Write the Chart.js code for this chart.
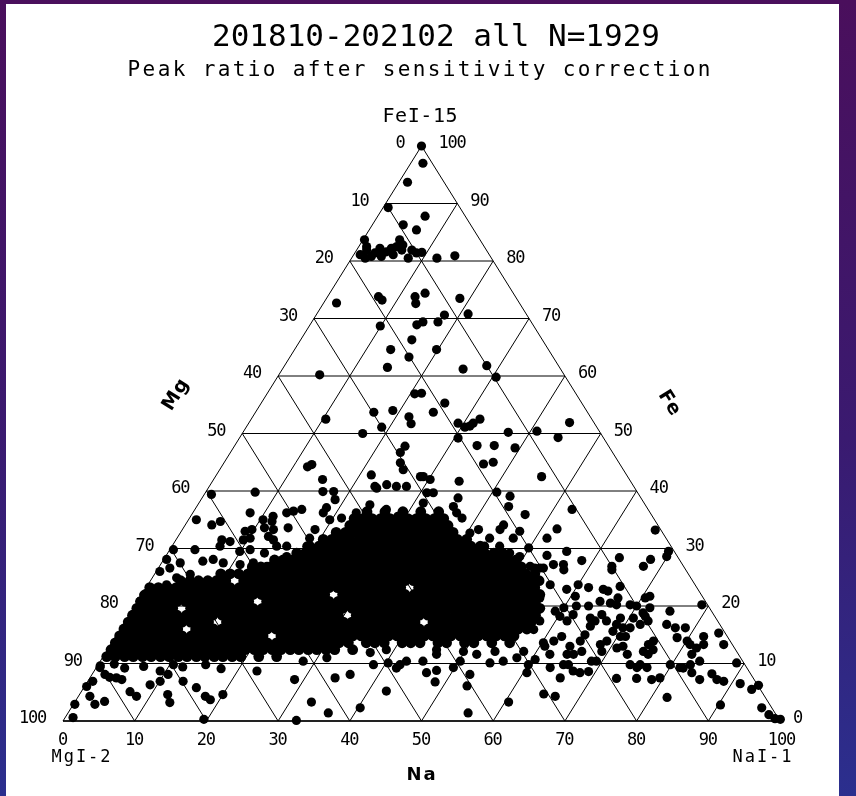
<!DOCTYPE html>
<html><head><meta charset="utf-8">
<script src="https://cdn.jsdelivr.net/npm/chart.js@4.4.1/dist/chart.umd.min.js"></script>
<style>html,body{margin:0;padding:0;overflow:hidden;background:#3a1660;}canvas{display:block}</style>
</head><body>
<canvas id="c" width="856" height="796"></canvas>
<script>
// ---- texts ----
const titleText = "201810-202102 all N=1929";
const subtitleText = "Peak ratio after sensitivity correction";
const topCorner = "FeI-15", leftCorner = "MgI-2", rightCorner = "NaI-1";
const axisNa = "Na", axisMg = "Mg", axisFe = "Fe";
// ---- tick labels ----
const gridVals = [10, 20, 30, 40, 50, 60, 70, 80, 90];
const tickVals = [0, 10, 20, 30, 40, 50, 60, 70, 80, 90, 100];

// ---- data: [Na, Fe] pairs (Mg = 100 - Na - Fe) ----
const apexPts = [[0,100],[1.7,97],[1.2,93.7],[0.7,89.3],[4.3,86.3],[6.6,87.8],[6.6,85.4],[0.2,83.7],[1.1,82.5],[0.9,81.1],[1.9,80.5],[2.6,80.8],[2.8,81.4],[3.1,82.2],[4.0,80.8],[4.7,82.2],[5.5,81.1],[5.1,83.7],[6.0,82.8],[6.3,81.9],[7.9,80.5],[7.7,81.9],[8.6,81.4],[9.3,81.5],[11.9,80.5],[14.2,80.9],[1.4,81.9],[4.3,81.6],[5.3,82.5]];
const upperPts = [[7.1,73.8],[7.9,73.2],[12.2,73.8],[12.9,72.6],[13.3,74.4],[18.6,73.5],[1.8,72.7],[21.1,70.8],[17.9,70.6],[17.6,69.4],[15.5,69.4],[14.9,68.9],[9.9,68.7],[15.5,66.3],[19.8,64.6],[13.4,64.6],[16.6,63.3],[14.5,61.5],[25.2,61.2],[28.2,61.8],[30.5,59.8],[5.7,60.2],[20.6,56.9],[21.5,57.0],[25.6,55.3],[19.0,54.0],[16.5,53.7],[24.8,53.7],[21.8,52.9],[22.7,51.7],[10.4,52.5],[18.9,51.1],[16.8,50.0],[29.2,51.8],[30.5,51.1],[31.3,51.8],[31.9,52.5],[31.1,51.3],[30.5,49.2],[37.0,50.2],[40.9,50.4],[44.4,49.3],[44.7,51.9],[33.8,47.9],[36.2,47.9],[39.3,47.5],[23.8,47.8],[23.7,46.7]];
const midPts = [[12.4,44.6],[12.0,44.2],[6.9,39.8],[1.0,39.4],[15.2,42.0],[16.3,39.9],[17.8,39.9],[18.7,38.5],[21.6,42.8],[23.1,40.8],[24.6,41.1],[23.5,40.5],[26.1,40.8],[27.5,40.8],[24.6,44.9],[25.6,43.7],[28.6,42.5],[36.3,44.7],[37.5,45.0],[45.5,42.5],[34.4,41.7],[40.6,39.8],[42.8,39.1],[35.7,38.8],[35.8,37.3],[36.8,36.2],[38.0,35.3],[43.5,37.3],[46.5,35.9],[52.6,36.8],[44.4,34.1],[44.3,33.3],[52.2,33.4],[51.6,31.8],[47.2,33.0],[46.9,31.8],[66.0,33.2],[29.0,42.5],[30.2,42.0],[30.9,39.7],[31.8,39.7],[31.3,37.9]];
const leftPts = [[8.0,36.2],[1.1,35.0],[3.7,34.1],[4.6,34.7],[8.9,33.0],[9.7,33.3],[10.4,35.0],[11.8,34.7],[11.5,35.6],[13.1,36.2],[13.9,36.5],[14.9,36.8],[11.3,33.6],[12.7,33.3],[14.6,33.6],[12.6,32.1],[10.2,31.8],[9.4,31.5],[13.6,31.5],[18.5,33.3],[18.5,31.8],[18.2,36.2],[18.2,37.1],[19.7,35.0],[21.2,35.3],[22.8,36.2],[24.0,37.6],[26.7,36.8],[25.8,35.0],[28.9,35.6],[31.3,35.0],[0.5,29.8],[3.5,29.8],[6.7,30.4],[6.4,31.5],[7.7,31.2],[9.9,29.5],[11.2,29.8],[13.5,29.2],[14.6,30.4],[16.0,30.4],[16.9,28.6],[18.0,29.2],[18.8,30.4],[20.0,29.8],[0.4,28.1],[2.6,27.5],[5.6,27.8],[6.9,28.1],[8.6,27.5],[11.1,27.2],[12.8,27.5],[15.0,26.9],[16.5,27.5],[18.5,27.2],[0.3,21.9],[0.3,20.8],[0.8,21.7],[0.5,26.0],[1.6,26.6],[3.4,24.9],[5.0,25.5],[2.6,23.7],[1.3,22.5]];
const rightPts = [[58.4,27.9],[63.4,28.4],[63.1,26.9],[67.9,28.1],[69.9,28.6],[69.7,29.5],[56.2,27.2],[54.8,27.2],[53.2,26.6],[55.5,29.5],[53.1,28.8],[49.9,30.1],[40.4,32.7],[41.3,33.3],[43.6,31.8],[43.6,30.4],[45.7,30.4],[47.7,29.2],[49.4,28.6],[51.7,26.9],[35.5,35.0],[36.0,33.3],[52.5,26.6],[53.7,26.6],[56.7,26.3],[63.4,26.3],[67.5,26.9],[56.1,23.7],[58.8,22.9],[60.6,21.7],[60.0,23.7],[61.7,23.2],[63.9,22.9],[64.7,22.6],[66.0,23.4],[66.7,21.4],[70.5,21.4],[71.0,21.7],[54.3,22.6],[55.8,21.4],[53.3,23.7],[88.9,10.1],[85.5,13.3],[83.8,15.3],[82.0,14.7],[82.7,13.3],[83.6,10.4],[82.6,9.8],[81.9,11.6],[80.1,13.9],[78.7,16.2],[78.4,14.5],[80.8,13.3],[82.0,12.7],[75.8,16.8],[77.3,16.2],[79.8,9.8],[81.4,9.3],[75.0,13.3],[75.8,11.6],[74.9,12.1],[76.1,12.4],[75.6,9.8],[76.8,9.3],[75.4,13.9],[75.1,19.1],[72.1,18.2],[72.9,17.4],[71.5,18.8],[72.0,19.7],[72.1,16.8],[70.6,17.9],[71.0,16.2],[71.1,14.7],[70.4,14.7],[71.6,13.0],[72.9,11.6],[70.9,12.7],[74.2,9.8],[75.4,9.3],[68.9,13.9],[68.3,13.3],[69.1,12.1],[69.2,10.4],[68.5,10.4],[68.9,15.6],[68.8,16.8],[68.8,17.9],[70.0,16.2],[67.1,17.4],[65.9,18.5],[65.5,17.4],[64.6,17.9],[65.3,16.5],[65.3,15.0],[65.2,13.9],[66.3,12.1],[65.4,11.6],[64.2,13.0],[64.5,11.6],[64.9,9.8],[65.6,9.8],[62.2,14.7],[61.5,13.9],[62.1,11.6],[60.7,13.0],[63.3,9.3],[60.2,13.6],[57.8,17.4],[57.7,15.9],[56.5,19.1],[59.1,19.1],[60.2,18.2],[61.6,17.4],[61.9,18.5],[60.0,19.7],[61.6,20.0],[63.3,20.0],[64.5,20.8],[66.1,20.5],[67.1,20.2],[69.0,20.2],[70.0,20.0],[79.0,20.2]];
const basePts = [[0.2,2.9],[1.1,0.6],[0.3,6.0],[0.7,6.9],[1.6,4.3],[3.0,2.9],[4.1,3.4],[2.7,7.6],[0.5,9.3],[4.6,7.2],[6.8,5.1],[8.1,4.3],[9.0,6.3],[10.1,6.9],[12.3,4.6],[13.3,3.2],[13.3,6.9],[15.7,5.8],[17.7,4.3],[18.7,3.7],[20.0,4.6],[19.5,0.3],[22.7,8.7],[28.7,7.2],[32.5,0.1],[33.0,3.3],[36.3,1.4],[34.2,7.5],[36.0,8.1],[40.3,2.3],[42.5,5.2],[41.9,9.2],[46.5,8.4],[47.7,8.8],[48.5,6.8],[53.3,6.1],[52.7,8.1],[55.8,1.4],[60.5,3.3],[60.5,8.4],[64.7,4.7],[66.5,4.3],[65.6,7.5],[66.8,8.7],[67.9,8.4],[69.0,8.6],[73.5,7.4],[76.3,7.4],[78.5,7.2],[79.5,7.5],[82.2,4.1],[81.9,9.2],[83.5,8.4],[85.2,7.2],[86.4,8.2],[87.6,7.2],[88.7,6.9],[90.3,2.8],[91.2,6.5],[93.3,5.5],[93.9,6.2],[96.3,2.3],[97.9,1.1],[99.1,0.4],[99.9,0.3],[9.2,8.7],[10.6,8.1],[10.5,9.8],[1.8,8.1],[3.7,7.5]];
const lowPts = [[28.3,10.4],[31.3,11.0],[38.4,9.8],[40.3,10.1],[42.1,9.8],[42.7,10.4],[45.0,10.4],[46.3,11.6],[49.8,9.3],[50.2,10.4],[54.5,10.1],[56.2,10.4],[57.8,11.0],[60.0,9.8],[60.5,10.7],[36.9,11.9],[38.9,12.4],[45.9,12.4],[49.8,12.1],[51.9,11.6],[54.2,12.1],[58.2,12.1],[0.4,9.6],[2.2,9.9],[4.0,9.2],[6.5,9.5],[12.0,9.4],[15.0,9.8],[17.5,9.1]];
// dense core, read row by row: Fe of each row, Na values of the dots in it
const coreFe = [36.4, 35.2, 34.0, 32.8, 31.6, 30.4, 29.2, 28.0, 26.8, 25.6, 24.4, 23.2, 22.0, 20.8, 19.6, 18.4, 17.2, 16.0, 14.8, 13.6, 12.4, 11.2];
const coreNa = [
 [24.2,26.7,29.2,31.7,34.2],
 [23.0,24.2,25.5,26.7,28.0,29.2,30.5,31.7,33.0,34.2,35.5],
 [23.0,24.2,25.5,26.7,28.0,29.2,30.5,31.7,33.0,34.2,35.5,36.7],
 [21.7,23.0,24.2,25.5,26.7,28.0,29.2,30.5,31.7,33.0,34.2,35.5,36.7,38.0],
 [20.5,21.7,23.0,24.2,25.5,26.7,28.0,29.2,30.5,31.7,33.0,34.2,35.5,36.7,38.0,39.2,40.5],
 [19.2,20.5,21.7,23.0,24.2,25.5,26.7,28.0,29.2,30.5,31.7,33.0,34.2,35.5,36.7,38.0,39.2,40.5,41.7,43.0],
 [18.0,19.2,20.5,21.7,23.0,24.2,25.5,26.7,28.0,29.2,30.5,31.7,33.0,34.2,35.5,36.7,38.0,39.2,40.5,41.7,43.0,44.2,45.5,46.7],
 [15.5,16.7,18.0,19.2,20.5,21.7,23.0,24.2,25.5,26.7,28.0,29.2,30.5,31.7,33.0,34.2,35.5,36.7,38.0,39.2,40.5,41.7,43.0,44.2,45.5,46.7,48.0,49.2],
 [13.0,14.2,15.5,16.7,18.0,19.2,20.5,21.7,23.0,24.2,25.5,26.7,28.0,29.2,30.5,31.7,33.0,34.2,35.5,36.7,38.0,39.2,40.5,41.7,43.0,44.2,45.5,46.7,48.0,49.2,50.5],
 [9.2,10.5,11.7,13.0,14.2,15.5,16.7,18.0,19.2,20.5,21.7,23.0,24.2,25.5,26.7,28.0,29.2,30.5,31.7,33.0,34.2,35.5,36.7,38.0,39.2,40.5,41.7,43.0,44.2,45.5,46.7,48.0,49.2,50.5,51.7,53.0],
 [4.2,5.5,6.7,8.0,9.2,10.5,13.0,14.2,15.5,16.7,18.0,19.2,20.5,21.7,23.0,24.2,25.5,26.7,28.0,29.2,30.5,31.7,33.0,34.2,35.5,36.7,38.0,39.2,40.5,41.7,43.0,44.2,45.5,46.7,48.0,49.2,50.5,51.7,53.0,54.2],
 [0.5,1.7,3.0,4.2,5.5,6.7,8.0,9.2,10.5,11.7,13.0,14.2,15.5,16.7,18.0,19.2,20.5,21.7,23.0,24.2,25.5,26.7,28.0,29.2,30.5,31.7,33.0,34.2,35.5,38.0,39.2,40.5,41.7,43.0,44.2,45.5,46.7,48.0,49.2,50.5,51.7,53.0,54.2],
 [0.5,1.7,3.0,4.2,5.5,6.7,8.0,9.2,10.5,11.7,13.0,14.2,15.5,16.7,18.0,19.2,20.5,21.7,23.0,24.2,25.5,28.0,29.2,30.5,31.7,33.0,34.2,35.5,36.7,38.0,39.2,40.5,41.7,43.0,44.2,45.5,46.7,48.0,49.2,50.5,51.7,53.0,54.2,55.5],
 [0.5,1.7,3.0,4.2,5.5,6.7,8.0,9.2,10.5,11.7,13.0,14.2,15.5,18.0,19.2,20.5,21.7,23.0,24.2,25.5,26.7,28.0,29.2,30.5,31.7,33.0,34.2,35.5,36.7,38.0,39.2,40.5,41.7,43.0,44.2,45.5,46.7,48.0,49.2,50.5,51.7,53.0,54.2,55.5],
 [0.5,1.7,3.0,4.2,5.5,8.0,9.2,10.5,11.7,13.0,14.2,15.5,16.7,18.0,19.2,20.5,21.7,23.0,24.2,25.5,26.7,28.0,29.2,30.5,31.7,33.0,34.2,35.5,36.7,38.0,39.2,40.5,41.7,43.0,44.2,45.5,46.7,48.0,49.2,50.5,51.7,53.0,54.2,55.5,56.7],
 [0.5,1.7,3.0,4.2,5.5,6.7,8.0,9.2,10.5,11.7,13.0,14.2,15.5,16.7,18.0,19.2,20.5,21.7,23.0,24.2,25.5,26.7,28.0,29.2,31.7,33.0,34.2,35.5,36.7,38.0,39.2,40.5,41.7,43.0,44.2,45.5,46.7,48.0,49.2,50.5,51.7,53.0,54.2,55.5,56.7],
 [0.5,1.7,3.0,4.2,5.5,6.7,8.0,9.2,10.5,11.7,14.2,15.5,16.7,18.0,19.2,20.5,21.7,23.0,24.2,25.5,26.7,28.0,29.2,30.5,31.7,33.0,34.2,35.5,36.7,38.0,39.2,40.5,43.0,44.2,45.5,46.7,48.0,49.2,50.5,51.7,53.0,54.2,55.5,56.7],
 [0.5,1.7,3.0,4.2,5.5,6.7,8.0,10.5,11.7,13.0,14.2,15.5,16.7,18.0,19.2,20.5,21.7,23.0,24.2,25.5,26.7,28.0,29.2,30.5,31.7,33.0,34.2,35.5,36.7,38.0,39.2,40.5,41.7,43.0,44.2,45.5,46.7,48.0,49.2,50.5,51.7,53.0,54.2,55.5,56.7],
 [0.5,1.7,3.0,4.2,5.5,6.7,8.0,9.2,10.5,11.7,13.0,14.2,15.5,16.7,18.0,19.2,20.5,23.0,24.2,25.5,26.7,28.0,29.2,30.5,31.7,33.0,34.2,35.5,36.7,38.0,39.2,40.5,41.7,43.0,44.2,45.5,46.7,48.0,49.2,50.5,51.7,53.0,54.2,55.5],
 [0.5,1.7,3.0,4.2,5.5,6.7,8.0,9.2,10.5,11.7,13.0,14.2,15.5,16.7,18.0,19.2,20.5,21.7,23.0,24.2,25.5,26.7,28.0,29.2,30.5,31.7,33.0,35.5,36.7,38.0,40.5,41.7,43.0,45.5,46.7,49.2,50.5,53.0,55.5],
 [0.5,1.7,3.0,4.2,5.5,6.7,8.0,9.2,10.5,11.7,13.0,14.2,15.5,16.7,18.0,19.2,20.5,21.7,23.0,24.2,25.5,26.7,28.0,29.2,30.5,31.7,34.2],
 [0.5,1.7,3.0,4.2,5.5,6.7,8.0,9.2,10.5,11.7,13.0,14.2,15.5,16.7,18.0,19.2,21.7,24.2]
];

// ---- build chart data ----
const ternary = (na, fe) => ({ x: na + fe / 2, y: fe });
const samples = [].concat(apexPts, upperPts, midPts, leftPts, rightPts, basePts, lowPts);
const pointData = samples.map(p => ternary(p[0], p[1]));
const coreData = [];
coreFe.forEach((fe, i) => coreNa[i].forEach(na => coreData.push(ternary(na, fe))));

const lineSets = [];
function seg(a, b, w, col) {
  lineSets.push({ type: 'scatter', data: [ternary(a[0], a[1]), ternary(b[0], b[1])], showLine: true,
    pointRadius: 0, pointHitRadius: 0, borderColor: col || '#000', borderWidth: w || 1, clip: false, order: 2 });
}
gridVals.forEach(v => {
  seg([0, v], [100 - v, v]);          // Fe constant
  seg([v, 0], [v, 100 - v]);          // Na constant
  seg([100 - v, 0], [0, 100 - v]);    // Mg constant
});
seg([0, 0], [0, 100]);
seg([100, 0], [0, 100]);
seg([0, 0], [100, 0], 2, '#222');

const MONO = '"DejaVu Sans Mono", "Liberation Mono", monospace';
const SANS = '"DejaVu Sans", "Liberation Sans", sans-serif';

function txt(ctx, s, x, y, font, align, spacing) {
  ctx.font = font; ctx.textAlign = align; ctx.textBaseline = 'middle';
  const hasLS = ('letterSpacing' in ctx);
  if (hasLS) ctx.letterSpacing = (spacing || 0) + 'px';
  let dx = 0;
  if (hasLS && spacing && align === 'center') dx = spacing / 2;
  ctx.fillText(s, x + dx, y);
  if (hasLS) ctx.letterSpacing = '0px';
}

const decor = {
  id: 'decor',
  beforeDraw(chart) {
    const ctx = chart.ctx;
    ctx.save();
    const g = ctx.createLinearGradient(0, 0, 0, 796);
    g.addColorStop(0, '#4a0f5c');
    g.addColorStop(0.55, '#3a1a70');
    g.addColorStop(1, '#2b2f8e');
    ctx.fillStyle = g;
    ctx.fillRect(0, 0, 856, 796);
    ctx.fillStyle = '#ffffff';
    ctx.fillRect(6, 4, 833, 792);
    ctx.restore();
  },
  afterDraw(chart) {
    const ctx = chart.ctx;
    const xs = chart.scales.x, ys = chart.scales.y;
    const P = (na, fe) => [xs.getPixelForValue(na + fe / 2), ys.getPixelForValue(fe)];
    ctx.save();
    ctx.fillStyle = '#000';
    txt(ctx, titleText, 436, 38, '31px ' + MONO, 'center', 0);
    txt(ctx, subtitleText, 419, 71, '21px ' + MONO, 'center', 2.36);
    txt(ctx, topCorner, 420, 117, '20px ' + MONO, 'center', 0.6);
    tickVals.forEach(v => {
      const a = P(0, 100 - v);
      txt(ctx, String(v), a[0] - 17, a[1] - 2, '17px ' + MONO, 'right', -1.2);
      const b = P(100 - v, v);
      txt(ctx, String(v), b[0] + (v === 100 ? 17 : 13), b[1] - 2, '17px ' + MONO, 'left', -1.2);
      const c = P(v, 0);
      txt(ctx, String(v), c[0] + (v === 100 ? 2 : 0), c[1] + 20, '17px ' + MONO, 'center', -1.2);
    });
    txt(ctx, leftCorner, 81, 758, '17px ' + MONO, 'center', 2.0);
    txt(ctx, rightCorner, 762, 758, '17px ' + MONO, 'center', 2.0);
    txt(ctx, axisNa, 421, 775, 'bold 18px ' + SANS, 'center', 2);
    ctx.save();
    ctx.translate(176, 395); ctx.rotate(-58 * Math.PI / 180);
    txt(ctx, axisMg, 0, 0, 'bold 19px ' + SANS, 'center', 1);
    ctx.restore();
    ctx.save();
    ctx.translate(669, 403); ctx.rotate(58 * Math.PI / 180);
    txt(ctx, axisFe, 0, 0, 'bold 19px ' + SANS, 'center', 1);
    ctx.restore();
    ctx.restore();
  }
};

new Chart(document.getElementById('c'), {
  type: 'scatter',
  data: {
    datasets: [{
      label: 'samples', data: pointData, pointRadius: 4.6, pointHoverRadius: 4.6,
      backgroundColor: '#000', borderWidth: 0, pointStyle: 'circle', clip: false, order: 1
    }, {
      label: 'samples (dense core)', data: coreData, pointRadius: 5.4, pointHoverRadius: 5.4,
      backgroundColor: '#000', borderWidth: 0, pointStyle: 'circle', clip: false, order: 1
    }].concat(lineSets)
  },
  options: {
    responsive: false, animation: false, events: [],
    layout: { padding: { left: 63, right: 76, top: 146, bottom: 75 } },
    scales: {
      x: { type: 'linear', min: 0, max: 100, display: false },
      y: { type: 'linear', min: 0, max: 100, display: false }
    },
    plugins: { legend: { display: false }, tooltip: { enabled: false }, title: { display: false } }
  },
  plugins: [decor]
});
</script>
</body></html>
